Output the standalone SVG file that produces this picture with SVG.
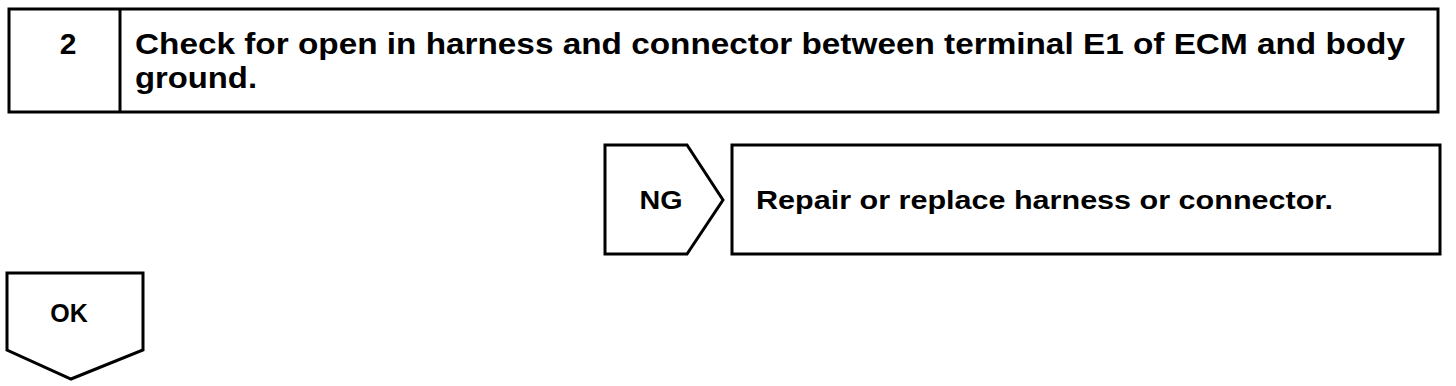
<svg xmlns="http://www.w3.org/2000/svg" width="1456" height="386" viewBox="0 0 1456 386">
<style>
.box{fill:#fff;stroke:#000;stroke-width:3;stroke-linejoin:miter}
.t{font-family:"Liberation Sans",Arial,sans-serif;font-weight:bold;fill:#000}
</style>
<rect width="1456" height="386" fill="#fff"/>
<g id="step2">
<rect class="box" x="9" y="9" width="1429" height="103"/>
<line class="box" x1="120" y1="9" x2="120" y2="112"/>
<text class="t" x="68" y="54" font-size="30" text-anchor="middle">2</text>
<text class="t" x="135" y="54" font-size="30" textLength="1270" lengthAdjust="spacingAndGlyphs">Check for open in harness and connector between terminal E1 of ECM and body</text>
<text class="t" x="135" y="88" font-size="30" textLength="122" lengthAdjust="spacingAndGlyphs">ground.</text>
</g>
<g id="ng">
<polygon class="box" points="605,145 687,145 723,200 687,254 605,254"/>
<text class="t" x="661" y="209" font-size="26" text-anchor="middle" textLength="43" lengthAdjust="spacingAndGlyphs">NG</text>
</g>
<g id="repair">
<rect class="box" x="732" y="145" width="708" height="109"/>
<text class="t" x="756" y="209" font-size="26" textLength="577" lengthAdjust="spacingAndGlyphs">Repair or replace harness or connector.</text>
</g>
<g id="ok">
<polygon class="box" points="7,273 143,273 143,350 71,379 7,350"/>
<text class="t" x="69" y="322" font-size="25" text-anchor="middle">OK</text>
</g>
<g id="connectors"></g>
</svg>
